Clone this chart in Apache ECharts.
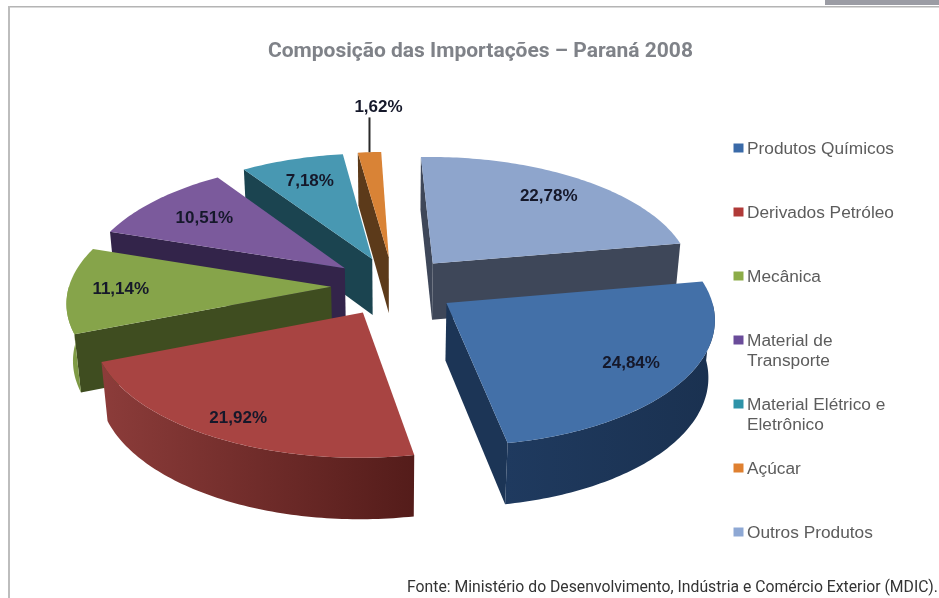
<!DOCTYPE html>
<html>
<head>
<meta charset="utf-8">
<style>html,body{margin:0;padding:0;background:#fff}#chart{width:939px;height:598px}</style>
<script src="https://cdn.jsdelivr.net/npm/echarts@6/dist/echarts.min.js"></script>
</head>
<body>
<div id="chart"></div>
<script>
// values
const categories = ['Produtos Químicos', 'Derivados Petróleo', 'Mecânica', 'Material de\nTransporte', 'Material Elétrico e\nEletrônico', 'Açúcar', 'Outros Produtos']
const shares = [24.84, 21.92, 11.14, 10.51, 7.18, 1.62, 22.78]
const shareLabels = ['24,84%', '21,92%', '11,14%', '10,51%', '7,18%', '1,62%', '22,78%']

const topColors = ['#4370a8', '#a84442', '#86a44a', '#7b5a9c', '#4898b2', '#d98336', '#8ea5cc']
const wallColors = ['#1c3556', '#6e2a28', '#3f4d20', '#33244a', '#1b4450', '#5c3a1a', '#3e4759']
const arcColors = [['#1f3a5f', '#1a3150'], ['#8c3c3a', '#541c1a'], ['#86a24a', '#7a9642'], null, null, null, null]
const legendColors = ['#3a6aa8', '#b03a38', '#8cac48', '#6a4c9a', '#2e93a8', '#df8030', '#8ea8d4']

// projection of the tilted pie
const cx = 394, cy = 286, A = 262, B = 123, H = 58
const persp = 0.11, perspZ = 0.02, explode = 0.24, startDeg = -2
const labelRadius = [0.79, 0.86, 0.8, 0.73, 0.76, 1.38, 0.78]
const rad = Math.PI / 180
const total = shares.reduce((a, b) => a + b, 0)

function project(X, Y, Z) {
  const s = 1 / (1 - persp * Y + perspZ * Z)
  return [cx + A * X * s, cy + (B * Y + H * Z) * s]
}

function slicePoint(a, b, r, deg, Z) {
  return project(a + r * Math.sin(deg * rad), b - r * Math.cos(deg * rad), Z)
}

function arcPoints(a, b, from, to, Z) {
  const pts = []
  const n = Math.max(2, Math.ceil(Math.abs(to - from)))
  for (let i = 0; i <= n; i++) {
    pts.push(slicePoint(a, b, 1, from + (to - from) * i / n, Z))
  }
  return pts
}

function renderSlice(params, api) {
  const i = params.dataIndex
  let before = 0
  for (let j = 0; j < i; j++) before += shares[j]
  // Outros Produtos starts at the top, the others follow clockwise from it
  const from = startDeg + (shares[6] + before) / total * 360
  const to = from + api.value(0) / total * 360
  const mid = (from + to) / 2
  const a = explode * Math.sin(mid * rad)
  const b = -explode * Math.cos(mid * rad)
  const z2 = Math.round(200 - Math.cos(mid * rad) * 100)
  const children = []

  const radialWall = function (deg) {
    return {
      type: 'polygon', z2: z2,
      shape: { points: [project(a, b, 0), slicePoint(a, b, 1, deg, 0), slicePoint(a, b, 1, deg, 1), project(a, b, 1)] },
      style: { fill: wallColors[i] }
    }
  }
  if (-Math.cos((from - 90) * rad) > 0) children.push(radialWall(from))
  if (-Math.cos((to + 90) * rad) > 0) children.push(radialWall(to))

  const arcFrom = Math.max(from, 90), arcTo = Math.min(to, 270)
  if (arcTo > arcFrom) {
    const colors = arcColors[i] || [wallColors[i], wallColors[i]]
    children.push({
      type: 'polygon', z2: z2 + 1,
      shape: { points: arcPoints(a, b, arcFrom, arcTo, 0).concat(arcPoints(a, b, arcTo, arcFrom, 1)) },
      style: { fill: new echarts.graphic.LinearGradient(0, 0, 1, 0, [{ offset: 0, color: colors[0] }, { offset: 1, color: colors[1] }]) }
    })
  }

  children.push({
    type: 'polygon', z2: z2 + 2,
    shape: { points: [project(a, b, 0)].concat(arcPoints(a, b, from, to, 0)) },
    style: { fill: topColors[i] }
  })

  // the thin slice gets its label outside, on a leader line
  const thin = shares[i] < 2
  const at = slicePoint(a, b, labelRadius[i], mid, 0)
  if (thin) {
    const edge = slicePoint(a, b, 1, mid, 0)
    children.push({
      type: 'line', z2: 500,
      shape: { x1: edge[0], y1: edge[1], x2: edge[0], y2: at[1] },
      style: { stroke: '#2a2a2a', lineWidth: 2 }
    })
    at[0] = edge[0] + 9
    at[1] -= 10
  }
  children.push({
    type: 'text', z2: 501,
    x: at[0], y: at[1],
    style: {
      text: shareLabels[i], fill: '#15182a', align: 'center', verticalAlign: 'middle',
      font: 'bold 17px "Liberation Sans"'
    }
  })
  return { type: 'group', children: children }
}

// legend, first lines are evenly spaced as in the picture
const legendTop = 148.5, legendStep = 64
const legendItems = []
categories.forEach(function (name, i) {
  const y = legendTop + legendStep * i
  legendItems.push({
    type: 'rect', shape: { x: 733.5, y: y - 5, width: 10, height: 9 },
    style: { fill: legendColors[i] }
  })
  legendItems.push({
    type: 'text', x: 747, y: y - 9,
    style: { text: name, fill: '#5c5c5c', font: '17.3px "Liberation Sans"', lineHeight: 20, textVerticalAlign: 'top' }
  })
})

const option = {
  backgroundColor: '#fff',
  animation: false,
  title: {
    text: 'Composição das Importações – Paraná 2008',
    left: 263, top: 36,
    textStyle: { color: '#7f8288', fontFamily: 'Roboto', fontWeight: 'bold', fontSize: 21 }
  },
  graphic: [
    { type: 'rect', shape: { x: 8, y: 6, width: 931, height: 1.5 }, style: { fill: '#b4b4b4' } },
    { type: 'rect', shape: { x: 8, y: 6, width: 2, height: 592 }, style: { fill: '#bdbdbd' } },
    { type: 'rect', shape: { x: 825, y: 0, width: 114, height: 5 }, style: { fill: '#9b9ca4' } },
    {
      type: 'text', x: 407, y: 580,
      style: { text: 'Fonte: Ministério do Desenvolvimento, Indústria e Comércio Exterior (MDIC).', fill: '#333', font: '15.75px Roboto' }
    }
  ].concat(legendItems),
  series: [{
    type: 'custom',
    coordinateSystem: 'none',
    renderItem: renderSlice,
    data: shares.map(function (v, i) { return { name: categories[i], value: [v] } })
  }]
}

const chart = echarts.init(document.getElementById('chart'))
chart.setOption(option)
</script>
</body>
</html>
